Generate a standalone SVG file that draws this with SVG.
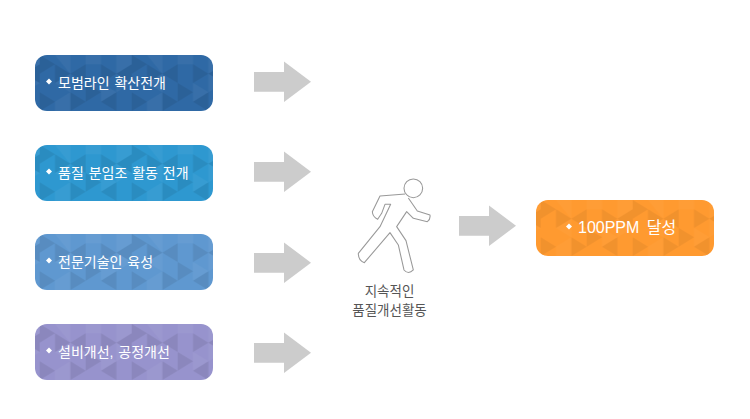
<svg xmlns="http://www.w3.org/2000/svg" width="750" height="419" viewBox="0 0 750 419">
<style>
.lbl{font-family:"Liberation Sans","Noto Sans CJK KR",sans-serif;font-size:14px;fill:#fff;word-spacing:1px}
.big{font-size:16px;word-spacing:3px}
.cap{font-family:"Liberation Sans","Noto Sans CJK KR",sans-serif;font-size:13.500px;fill:#555;text-anchor:middle}
.arr{fill:#ccc}
.dk{fill:#000;fill-opacity:.08}
.lt{fill:#fff;fill-opacity:.045}
.dia{fill:#fff}
</style>
<defs>
<pattern id="tri" patternUnits="userSpaceOnUse" x="4.700" y="0" width="92" height="56">
<path class="dk" d="M0 0V18.670L15.330 9.330Z M15.330 9.330V28L30.670 18.670Z M46 9.330V28L30.670 18.670Z M61.330 9.330V28L76.670 18.670Z M92 9.330V28L76.670 18.670Z M0 37.330V56L15.330 46.670Z M30.670 37.330V56L46 46.670Z M61.330 46.670L76.670 37.330V56Z M46 28V46.670L61.330 37.330Z"/>
<path class="lt" d="M15.330 0L30.670 0V18.670Z M46 0H61.330V9.330L46 9.330Z M76.670 0H92V9.330L76.670 18.670Z M15.330 28L30.670 18.670L30.670 37.330Z M15.330 46.670L30.670 37.330V56H15.330Z M76.670 18.670V37.330L92 28Z M61.330 28V46.670L76.670 37.330Z"/>
</pattern>
<rect id="box" width="178" height="56" rx="12"/>
<path id="ar" d="M254 72H284V61.500L311 81.700L284 102V91.700H254Z"/>
</defs>
<g id="connectors">
<use href="#ar" class="arr"/>
<use href="#ar" class="arr" y="90"/>
<use href="#ar" class="arr" y="181"/>
<use href="#ar" class="arr" y="271"/>
<use href="#ar" class="arr" x="205" y="144"/>
</g>
<g id="n1"><g transform="translate(35 55)"><use href="#box" fill="#2f69a5"/><use href="#box" fill="url(#tri)"/></g><path class="dia" d="M49 78.500l3 3-3 3-3-3z"/><text class="lbl" x="58" y="88">모범라인 확산전개</text></g>
<g id="n2"><g transform="translate(35 145)"><use href="#box" fill="#2e98d0"/><use href="#box" fill="url(#tri)"/></g><path class="dia" d="M49 168.500l3 3-3 3-3-3z"/><text class="lbl" x="58" y="178">품질 분임조 활동 전개</text></g>
<g id="n3"><g transform="translate(35 234)"><use href="#box" fill="#5f98d0"/><use href="#box" fill="url(#tri)"/></g><path class="dia" d="M49 257.500l3 3-3 3-3-3z"/><text class="lbl" x="58" y="267">전문기술인 육성</text></g>
<g id="n4"><g transform="translate(35 324)"><use href="#box" fill="#9793cd"/><use href="#box" fill="url(#tri)"/></g><path class="dia" d="M49 347.500l3 3-3 3-3-3z"/><text class="lbl" x="58" y="357">설비개선, 공정개선</text></g>
<g id="n5">
<g transform="translate(330 170) scale(.3333)" fill="#fff" stroke="#999" stroke-width="3.200" stroke-linejoin="round">
<circle cx="250" cy="55" r="28"/>
<path d="M226 72L150 78L127 125Q128 140 143 148L155 130L165 103H182L150 170L85 250Q85 272 103 278L180 188L205 225L222 300Q235 315 250 300L228 212L200 170L230 125L250 145L292 155Q302 148 300 135L262 123L235 84"/>
</g>
<text class="cap" x="389.500" y="296">지속적인</text><text class="cap" x="389.500" y="315">품질개선활동</text>
</g>
<g id="n6"><g transform="translate(536 200)"><use href="#box" fill="#ff9a30"/><use href="#box" fill="url(#tri)" opacity=".7"/></g><path class="dia" d="M569 223.500l3 3-3 3-3-3z"/><text class="lbl big" x="578" y="233">100PPM 달성</text></g>
</svg>
